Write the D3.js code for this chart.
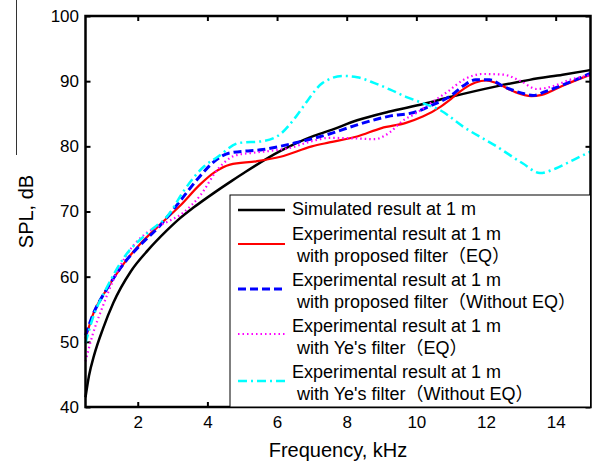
<!DOCTYPE html>
<html>
<head>
<meta charset="utf-8">
<script src="https://cdn.jsdelivr.net/npm/d3@7"></script>
<style>
  body { margin: 0; background: #fff; }
  text { font-family: Arial, "Liberation Sans", "Noto Sans CJK SC", sans-serif; }
</style>
</head>
<body>
<div id="chart"></div>
<script>
// tick labels
const xTicks = [2, 4, 6, 8, 10, 12, 14];
const yTicks = [40, 50, 60, 70, 80, 90, 100];

// frequency (kHz) / SPL (dB)
const simF = [0.5, 0.6, 0.75, 1.0, 1.3, 1.8, 2.3, 2.8, 3.2, 3.6, 4.2, 4.7, 5.1, 6.1, 7.0, 7.5, 8.3, 9.2, 10.2, 11.0, 12.3, 13.25, 14.2, 15.0];
const simV = [41.5, 44.8, 48, 52, 56, 60.8, 64.1, 66.9, 68.9, 70.6, 72.9, 74.7, 76.1, 79.3, 81.5, 82.4, 84, 85.3, 86.5, 87.6, 89.2, 90.2, 91, 91.7];

const redF = [0.5, 0.7, 1.1, 1.6, 2.1, 2.6, 3.2, 3.8, 4.2, 4.65, 5.4, 6.1, 7.0, 7.5, 8.3, 9.0, 9.7, 10.2, 10.7, 11.0, 11.3, 11.7, 12.0, 12.3, 12.8, 13.3, 13.6, 14.2, 15.0];
const redV = [50.5, 54, 58, 62, 65.2, 67.8, 70.8, 74.2, 76, 77.2, 77.7, 78.4, 80, 80.6, 81.5, 82.8, 83.6, 84.6, 86.1, 87.3, 88.6, 89.8, 90.1, 89.7, 88.4, 87.7, 87.9, 89.3, 91];

const blueF = [0.5, 0.7, 1.1, 1.6, 2.1, 2.6, 3.2, 3.8, 4.2, 4.65, 5.6, 6.5, 7.5, 8.3, 9.2, 10.0, 10.4, 11.0, 11.35, 11.7, 12.1, 12.5, 13.0, 13.35, 13.7, 14.2, 15.0];
const blueV = [51, 54, 58, 62, 65, 67.6, 71.5, 75.5, 77.7, 79, 79.5, 80.5, 81.9, 83.3, 84.6, 85.3, 86.2, 87.8, 89.3, 90.2, 90.2, 89.2, 88.2, 87.8, 88.4, 89.4, 91.2];

const magF = [0.5, 0.7, 1.0, 1.3, 1.7, 2.2, 2.7, 3.3, 3.8, 4.3, 4.8, 5.3, 5.8, 6.4, 7.0, 7.5, 8.3, 8.8, 9.25, 9.6, 10.0, 10.4, 10.9, 11.35, 11.9, 12.5, 13.0, 13.45, 13.9, 14.4, 15.0];
const magV = [47, 51, 55.5, 59.5, 63.5, 66.5, 68, 69.8, 72.5, 76.5, 78.6, 79, 79.3, 79.8, 80.8, 81.3, 81.2, 81.1, 82.2, 83.9, 85.1, 86.6, 88.4, 90.2, 91.1, 91, 90, 88.8, 89.2, 90.2, 90.9];

const cyanF = [0.5, 0.7, 1.1, 1.6, 2.3, 2.9, 3.3, 3.9, 4.3, 4.9, 5.6, 6.1, 6.55, 6.9, 7.3, 7.9, 8.3, 8.8, 9.25, 9.7, 10.2, 10.7, 11.35, 12.3, 13.05, 13.55, 14.0, 14.5, 15.0];
const cyanV = [49.8, 53.5, 58.2, 62.9, 66.8, 69.6, 73, 76.9, 78.4, 80.5, 80.8, 81.9, 84.6, 87.2, 89.7, 90.8, 90.6, 89.7, 88.7, 87.6, 86.6, 85.5, 83, 80, 77.4, 75.9, 76.6, 77.9, 79.2];

const seriesNames = [
  ["Simulated result at 1 m"],
  ["Experimental result at 1 m", " with proposed filter（EQ）"],
  ["Experimental result at 1 m", " with proposed filter（Without EQ）"],
  ["Experimental result at 1 m", " with Ye's filter（EQ）"],
  ["Experimental result at 1 m", " with Ye's filter（Without EQ）"]
];

const series = [
  {f: simF, v: simV, color: "#000000", width: 2.5, dash: null},
  {f: redF, v: redV, color: "#ff0000", width: 2.2, dash: null},
  {f: blueF, v: blueV, color: "#0000ff", width: 3, dash: "8,4"},
  {f: magF, v: magV, color: "#ff00ff", width: 2.2, dash: "1.5,3"},
  {f: cyanF, v: cyanV, color: "#00ffff", width: 2.5, dash: "9,4,2,4"}
];

const W = 593, H = 465;
const m = {t: 16, r: 2.5, b: 58, l: 85.5};
const w = W - m.l - m.r, h = H - m.t - m.b;

const svg = d3.select("#chart").append("svg")
  .attr("width", W).attr("height", H);

// stray scan line at the left edge
svg.append("line")
  .attr("x1", 16.5).attr("x2", 16.5).attr("y1", 0).attr("y2", 155)
  .attr("stroke", "#333").attr("stroke-width", 1);

const g = svg.append("g").attr("transform", "translate(" + m.l + "," + m.t + ")");

const x = d3.scaleLinear().domain([0.5, 15]).range([0, w]);
const y = d3.scaleLinear().domain([40, 100]).range([h, 0]);

// axes with inward ticks
g.append("g").attr("transform", "translate(0," + h + ")")
  .call(d3.axisBottom(x).tickValues(xTicks).tickSize(-5).tickPadding(9).tickFormat(d3.format("d")));
g.append("g")
  .call(d3.axisLeft(y).tickValues(yTicks).tickSize(-5).tickPadding(6.5).tickFormat(d3.format("d")));
g.append("g").call(d3.axisTop(x).tickValues(xTicks).tickSize(-5).tickFormat(""));
g.append("g").attr("transform", "translate(" + w + ",0)")
  .call(d3.axisRight(y).tickValues(yTicks).tickSize(-5).tickFormat(""));

g.selectAll(".domain").remove();
g.selectAll(".tick line").attr("stroke", "#000").attr("stroke-width", 2);
g.selectAll(".tick text").attr("font-size", 17).attr("fill", "#000");

// curves
const line = d3.line()
  .x(d => x(d[0])).y(d => y(d[1]))
  .curve(d3.curveMonotoneX);

series.forEach(s => {
  g.append("path")
    .datum(s.f.map((f, i) => [f, s.v[i]]))
    .attr("fill", "none")
    .attr("stroke", s.color)
    .attr("stroke-width", s.width)
    .attr("stroke-dasharray", s.dash)
    .attr("d", line);
});

// legend
const lg = svg.append("g");
lg.append("rect")
  .attr("x", 230).attr("y", 195).attr("width", m.l + w - 230).attr("height", m.t + h - 195)
  .attr("fill", "#fff").attr("stroke", "#000").attr("stroke-width", 1);

const rowY = [210, 244, 289, 334, 381];
const textY = [215, 240, 286, 332, 378];
series.forEach((s, i) => {
  lg.append("line")
    .attr("x1", 238).attr("x2", 285).attr("y1", rowY[i]).attr("y2", rowY[i])
    .attr("stroke", s.color).attr("stroke-width", s.width)
    .attr("stroke-dasharray", s.dash);
  const t = lg.append("text").attr("x", 292).attr("y", textY[i])
    .attr("font-size", 18).attr("fill", "#000");
  seriesNames[i].forEach((txt, j) => {
    t.append("tspan").attr("x", 292).attr("dy", j === 0 ? 0 : 22).text(txt);
  });
});

// frame
g.append("rect")
  .attr("width", w).attr("height", h)
  .attr("fill", "none").attr("stroke", "#000").attr("stroke-width", 2.5);

// axis titles
svg.append("text")
  .attr("x", m.l + w / 2).attr("y", 457)
  .attr("text-anchor", "middle").attr("font-size", 20)
  .text("Frequency, kHz");
svg.append("text")
  .attr("transform", "translate(33," + (m.t + h / 2) + ") rotate(-90)")
  .attr("text-anchor", "middle").attr("font-size", 20)
  .text("SPL, dB");
</script>
</body>
</html>
